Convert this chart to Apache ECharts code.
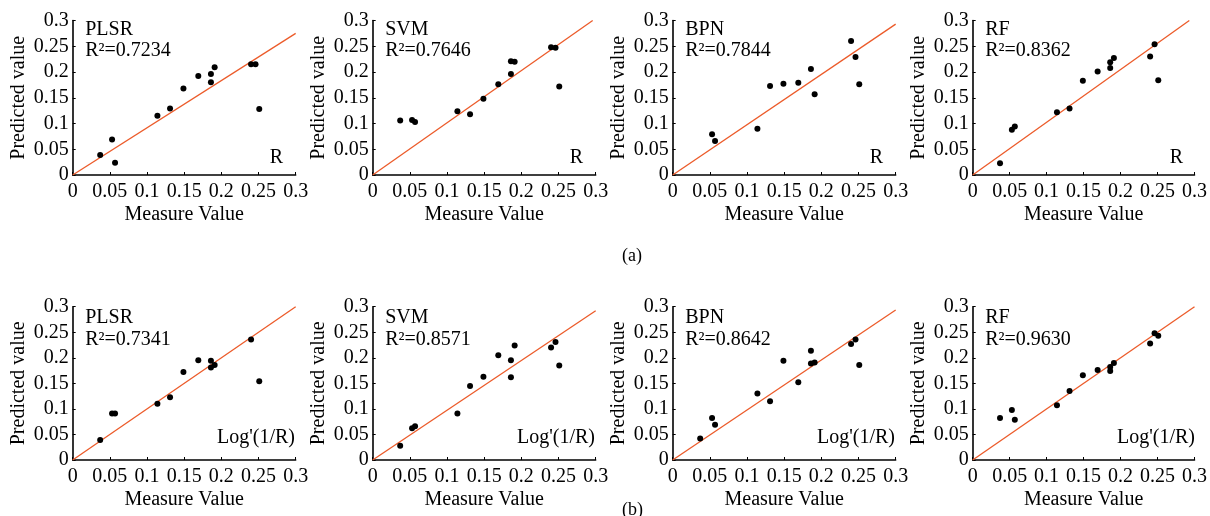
<!DOCTYPE html>
<html><head><meta charset="utf-8">
<script src="https://cdn.jsdelivr.net/npm/echarts@6/dist/echarts.min.js"></script>
<style>html,body{margin:0;padding:0;background:#fff}#c{width:1210px;height:516px}</style>
</head><body><div id="c"></div>
<script>
// ---- data ----
const measured = [0.037, 0.053, 0.057, 0.114, 0.131, 0.149, 0.169, 0.186, 0.186, 0.191, 0.240, 0.246, 0.251];
const models = ['PLSR', 'SVM', 'BPN', 'RF'];
const r2R = ['0.7234', '0.7646', '0.7844', '0.8362'];
const r2Log = ['0.7341', '0.8571', '0.8642', '0.9630'];
const predR_PLSR = [0.039, 0.069, 0.024, 0.115, 0.129, 0.168, 0.192, 0.196, 0.180, 0.209, 0.215, 0.215, 0.128];
const predR_SVM  = [0.106, 0.107, 0.103, 0.124, 0.118, 0.148, 0.176, 0.221, 0.196, 0.220, 0.248, 0.247, 0.172];
const predR_BPN  = [null, 0.079, 0.066, 0.090, 0.173, 0.177, 0.179, 0.206, null, 0.157, 0.260, 0.229, 0.176];
const predR_RF   = [0.023, 0.088, 0.094, 0.122, 0.129, 0.183, 0.201, 0.219, 0.208, 0.227, 0.230, 0.254, 0.184];
const predL_PLSR = [0.039, 0.091, 0.091, 0.110, 0.123, 0.172, 0.195, 0.194, 0.181, 0.186, 0.236, null, 0.154];
const predL_SVM  = [0.028, 0.062, 0.066, 0.091, 0.145, 0.163, 0.205, 0.195, 0.162, 0.224, 0.220, 0.231, 0.185];
const predL_BPN  = [0.042, 0.082, 0.069, 0.130, 0.115, 0.194, 0.152, 0.214, 0.189, 0.191, 0.227, 0.236, 0.186];
const predL_RF   = [0.082, 0.098, 0.079, 0.107, 0.135, 0.166, 0.176, 0.174, 0.182, 0.190, 0.228, 0.248, 0.243];
const fitEndR   = [[0.3, 0.275], [0.296, 0.3], [0.3, 0.293], [0.293, 0.3]];
const fitEndLog = [[0.3, 0.3], [0.3, 0.292], [0.3, 0.2935], [0.3, 0.3]];
const axisMin = 0, axisMax = 0.3, axisStep = 0.05;
const rowLabel = ['R', "Log'(1/R)"];
const panelTags = ['(a)', '(b)'];

// ---- layout ----
const FONT = '"Liberation Serif","Times New Roman",serif';
const rows = [
  {top: 20.5, height: 154.5, preds: [predR_PLSR, predR_SVM, predR_BPN, predR_RF], r2: r2R, ends: fitEndR,
   nameDy: 10.5, r2Dy: 31.5, tagRight: 210.5, tagDy: 138},
  {top: 306.7, height: 153.3, preds: [predL_PLSR, predL_SVM, predL_BPN, predL_RF], r2: r2Log, ends: fitEndLog,
   nameDy: 12, r2Dy: 33.8, tagRight: 222.3, tagDy: 132.2}
];
const W = 223;
const grids = [], xAxes = [], yAxes = [], series = [], graphics = [];
rows.forEach((row, r) => {
  models.forEach((m, i) => {
    const idx = grids.length;
    const left = 72.67 + 300 * i;
    grids.push({left: left, top: row.top, width: W, height: row.height, containLabel: false});
    const axBase = {
      min: axisMin, max: axisMax, interval: axisStep, type: 'value', gridIndex: idx,
      splitLine: {show: false},
      axisLine: {show: true, lineStyle: {color: '#000', width: 1.6}},
      axisTick: {show: true, inside: true, length: 3, lineStyle: {color: '#000', width: 1}},
      axisLabel: {color: '#000', fontFamily: FONT, fontSize: 20},
      nameTextStyle: {color: '#000', fontFamily: FONT, fontSize: 20},
      nameLocation: 'middle'
    };
    xAxes.push(Object.assign({}, axBase, {name: 'Measure Value', nameGap: 30,
      axisLabel: Object.assign({}, axBase.axisLabel, {margin: 7})}));
    yAxes.push(Object.assign({}, axBase, {name: 'Predicted value', nameGap: 44,
      axisLabel: Object.assign({}, axBase.axisLabel, {margin: 4})}));
    const pts = [];
    measured.forEach((x, k) => { if (row.preds[i][k] != null) pts.push([x, row.preds[i][k]]); });
    series.push({type: 'line', xAxisIndex: idx, yAxisIndex: idx, data: [[0, 0], row.ends[i]],
      showSymbol: false, symbol: 'none', lineStyle: {color: '#EC5B2A', width: 1.3}, z: 2, silent: true});
    series.push({type: 'scatter', xAxisIndex: idx, yAxisIndex: idx, data: pts, symbolSize: 6,
      itemStyle: {color: '#000', opacity: 1}, z: 3, silent: true});
    graphics.push({type: 'text', left: left + 12.5, top: row.top + row.nameDy - 11,
      style: {text: m, font: '20px ' + FONT, fill: '#000'}});
    graphics.push({type: 'text', left: left + 12.5, top: row.top + row.r2Dy - 11,
      style: {text: 'R\u00B2=' + row.r2[i], font: '20px ' + FONT, fill: '#000'}});
    graphics.push({type: 'text', right: 1210 - (left + row.tagRight), top: row.top + row.tagDy - 11,
      style: {text: rowLabel[r], font: '20px ' + FONT, fill: '#000'}});
  });
});
graphics.push({type: 'text', left: 622, top: 247, style: {text: panelTags[0], font: '18px ' + FONT, fill: '#000'}});
graphics.push({type: 'text', left: 622, top: 501, style: {text: panelTags[1], font: '18px ' + FONT, fill: '#000'}});

const chart = echarts.init(document.getElementById('c'), null, {renderer: 'canvas'});
chart.setOption({
  animation: false,
  backgroundColor: '#fff',
  grid: grids, xAxis: xAxes, yAxis: yAxes, series: series, graphic: graphics
});
</script></body></html>
